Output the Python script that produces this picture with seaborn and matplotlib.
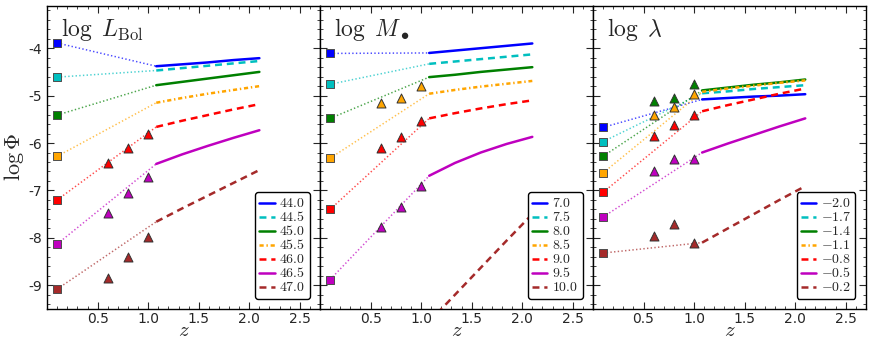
import matplotlib
matplotlib.use("Agg")
import matplotlib.pyplot as plt
import seaborn as sns
import numpy as np
from matplotlib.ticker import MultipleLocator

sns.set_style("ticks")
plt.rcParams.update({
    "font.family": ["DejaVu Sans"],
    "mathtext.fontset": "cm",
    "axes.unicode_minus": False,
    "xtick.direction": "in",
    "ytick.direction": "in",
    "xtick.top": True,
    "ytick.right": True,
    "xtick.major.size": 5,
    "ytick.major.size": 5,
    "xtick.minor.size": 2.5,
    "ytick.minor.size": 2.5,
    "xtick.major.pad": 2,
    "xtick.labelsize": 10,
    "ytick.labelsize": 10,
    "axes.linewidth": 1.0,
    "axes.edgecolor": "black",
    "lines.scale_dashes": False,
})

# redshift positions
z_sq = 0.1
z_tri = [0.6, 0.8, 1.0]
z_fit = [1.08, 1.335, 1.59, 1.845, 2.1]

colors = ["#0000ff", "#00bfbf", "#008000", "#ffa500", "#ff0000", "#bf00bf", "#a52a2a"]
styles = ["-", (0, (5, 3.5)), "-", (0, (3, 2, 1, 2)), (0, (5, 3.5)), "-", (0, (5, 3.5))]

# panel 1: log L_Bol
lbol_labels = ["44.0", "44.5", "45.0", "45.5", "46.0", "46.5", "47.0"]
lbol_sq = [-3.89, -4.61, -5.41, -6.28, -7.20, -8.13, -9.08]
lbol_fit = [
    [-4.38, -4.34, -4.30, -4.25, -4.21],
    [-4.47, -4.42, -4.37, -4.32, -4.27],
    [-4.78, -4.71, -4.64, -4.57, -4.50],
    [-5.15, -5.05, -4.96, -4.88, -4.80],
    [-5.66, -5.53, -5.41, -5.29, -5.18],
    [-6.44, -6.24, -6.06, -5.89, -5.73],
    [-7.66, -7.38, -7.11, -6.84, -6.57],
]
lbol_tri = {
    4: [-6.43, -6.10, -5.80],
    5: [-7.47, -7.06, -6.71],
    6: [-8.85, -8.40, -7.98],
}

# panel 2: log M_BH
mbh_labels = ["7.0", "7.5", "8.0", "8.5", "9.0", "9.5", "10.0"]
mbh_sq = [-4.11, -4.76, -5.48, -6.32, -7.40, -8.88, np.nan]
mbh_fit = [
    [-4.10, -4.05, -4.00, -3.95, -3.90],
    [-4.33, -4.28, -4.23, -4.18, -4.13],
    [-4.61, -4.56, -4.50, -4.45, -4.40],
    [-4.96, -4.88, -4.81, -4.75, -4.69],
    [-5.48, -5.37, -5.27, -5.18, -5.10],
    [-6.69, -6.42, -6.20, -6.02, -5.87],
    [-9.77, -9.20, -8.63, -8.06, -7.50],
]
mbh_tri = {
    3: [-5.15, -5.06, -4.80],
    4: [-6.11, -5.87, -5.53],
    5: [-7.77, -7.34, -6.91],
}

# panel 3: log lambda
lam_labels = ["-2.0", "-1.7", "-1.4", "-1.1", "-0.8", "-0.5", "-0.2"]
lam_sq = [-5.67, -5.97, -6.28, -6.63, -7.04, -7.56, -8.32]
lam_fit = [
    [-5.08, -5.05, -5.02, -5.00, -4.97],
    [-4.95, -4.91, -4.86, -4.82, -4.78],
    [-4.89, -4.83, -4.77, -4.72, -4.66],
    [-4.92, -4.85, -4.79, -4.73, -4.68],
    [-5.33, -5.20, -5.08, -4.96, -4.85],
    [-6.20, -6.01, -5.83, -5.65, -5.48],
    [-8.10, -7.80, -7.50, -7.20, -6.91],
]
lam_tri = {
    2: [-5.12, -5.06, -4.76],
    3: [-5.40, -5.25, -4.97],
    4: [-5.85, -5.62, -5.41],
    5: [-6.60, -6.34, -6.33],
    6: [-7.97, -7.71, -8.11],
}

panels = [
    (r"$\log\ L_{\rm Bol}$", lbol_labels, lbol_sq, lbol_fit, lbol_tri),
    (r"$\log\ M_\bullet$", mbh_labels, mbh_sq, mbh_fit, mbh_tri),
    (r"$\log\ \lambda$", lam_labels, lam_sq, lam_fit, lam_tri),
]

fig, axes = plt.subplots(1, 3, sharey=True, figsize=(8.72, 3.46), dpi=100)
fig.subplots_adjust(left=0.054, right=0.993, bottom=0.107, top=0.984, wspace=0)

for ax, (title, labels, sq, fit, tri) in zip(axes, panels):
    for i in range(7):
        c = colors[i]
        # dotted link from the local point to the start of the curve
        if not np.isnan(sq[i]):
            ax.plot([z_sq, z_fit[0]], [sq[i], fit[i][0]], ls=":", lw=1.1,
                    color=c, alpha=0.7, zorder=2)
        sns.lineplot(x=z_fit, y=fit[i], ax=ax, color=c, lw=1.8,
                     linestyle=styles[i], label=r"$%s$" % labels[i], zorder=3)
        if not np.isnan(sq[i]):
            sns.scatterplot(x=[z_sq], y=[sq[i]], ax=ax, marker="s", s=26,
                            color=c, edgecolor="0.3", linewidth=0.7,
                            zorder=5, legend=False)
        if i in tri:
            sns.scatterplot(x=z_tri, y=tri[i], ax=ax, marker="^", s=42,
                            color=c, edgecolor="0.2", linewidth=0.7,
                            zorder=5, legend=False)

    ax.text(0.05, 0.9, title, transform=ax.transAxes, fontsize=17)
    ax.set_xlim(0, 2.7)
    ax.set_ylim(-9.5, -3.1)
    ax.set_xticks([0.5, 1.0, 1.5, 2.0, 2.5])
    ax.xaxis.set_minor_locator(MultipleLocator(0.1))
    ax.yaxis.set_major_locator(MultipleLocator(1))
    ax.yaxis.set_minor_locator(MultipleLocator(0.2))
    ax.tick_params(which="both", top=True, right=True, direction="in")
    ax.set_xlabel(r"$z$", fontsize=15, labelpad=-4)
    ax.set_ylabel("")
    leg = ax.legend(loc="lower right", fontsize=10, labelspacing=0.0,
                    handlelength=1.1, handletextpad=0.35, borderpad=0.3,
                    borderaxespad=0.75, fancybox=True, framealpha=1)
    leg.get_frame().set_edgecolor("black")
    leg.get_frame().set_linewidth(1.0)

axes[0].set_ylabel(r"$\log\Phi$", fontsize=16, labelpad=2)

fig.savefig("out.png", dpi=100)
